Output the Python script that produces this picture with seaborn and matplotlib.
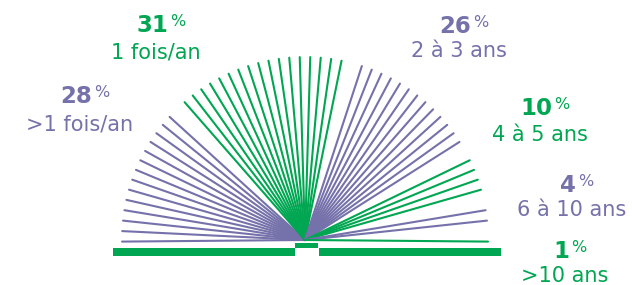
import numpy as np
import pandas as pd
import matplotlib.pyplot as plt
import seaborn as sns

# reading frequency, share of respondents, pages drawn per group
groups = ['>1 fois/an', '1 fois/an', '2 à 3 ans', '4 à 5 ans', '6 à 10 ans', '>10 ans']
shares = [28, 31, 26, 10, 4, 1]
n_pages = [14, 17, 13, 4, 2, 1]

purple = '#7571aa'
green = '#00a651'
colors = [purple, green, purple, green, purple, green]

# layout (pixels of the 632x285 canvas)
cx, cy, r = 305, 240, 183
label_x = [80, 156, 459, 540, 572, 565]
num_base = [103, 32, 33, 115, 192, 258]
txt_base = [130, 59, 57, 141, 216, 282]

# one empty slot between groups, pages fanned from left to right
n_slots = sum(n_pages) + len(n_pages) - 1
angles = np.linspace(180.5, -0.5, n_slots)
rows = []
slot = 0
for g, n in zip(groups, n_pages):
    for k in range(n):
        a = np.deg2rad(angles[slot])
        line_id = f'{g}_{k}'
        rows.append((line_id, g, cx, cy))
        rows.append((line_id, g, cx + r * np.cos(a), cy - r * np.sin(a)))
        slot += 1
    slot += 1
pages = pd.DataFrame(rows, columns=['line', 'group', 'x', 'y'])

sns.set_theme(style='white')
plt.rcParams['font.family'] = ['DejaVu Sans']

fig = plt.figure(figsize=(6.32, 2.85), dpi=100)
ax = fig.add_axes([0, 0, 1, 1])
sns.lineplot(data=pages, x='x', y='y', units='line', hue='group',
             palette=dict(zip(groups, colors)), estimator=None, sort=False,
             linewidth=1.5, legend=False, ax=ax)

# book covers and spine
ax.fill_between([cx - r - 9, cx - 10], 248, 256, color=green, lw=0)
ax.fill_between([cx + 14, cx + r + 13], 248, 256, color=green, lw=0)
ax.fill_between([cx - 10, cx + 13], 243, 248, color=green, lw=0)

for g, s, c, x, yn, yt in zip(groups, shares, colors, label_x, num_base, txt_base):
    t = ax.text(x - 4, yn, str(s), ha='center', va='baseline', fontsize=16.5,
                fontweight='heavy', color=c)
    ax.annotate('%', xy=(1, 1), xycoords=t, xytext=(1.5, 0), textcoords='offset points',
                ha='left', va='top', fontsize=11.5, color=c)
    ax.text(x, yt, g, ha='center', va='baseline', fontsize=15, color=c)

ax.set_xlim(0, 632)
ax.set_ylim(285, 0)
ax.axis('off')
fig.savefig('out.png', dpi=100)
